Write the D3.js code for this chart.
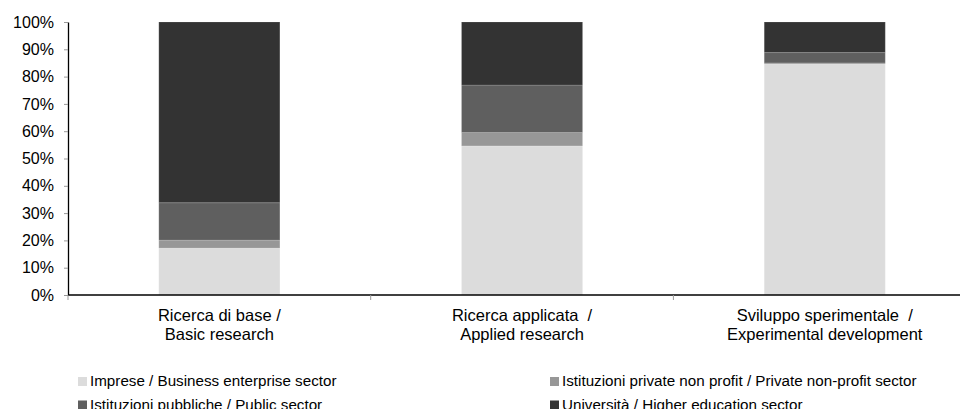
<!DOCTYPE html>
<html>
<head>
<meta charset="utf-8">
<script src="https://cdn.jsdelivr.net/npm/d3@7"></script>
<style>
  body { margin: 0; background: #fff; }
  svg text { font-family: "Liberation Sans", Arial, sans-serif; fill: #000; white-space: pre; }
</style>
</head>
<body>
<div id="main"></div>
<script>
// categorie (due righe per etichetta)
const categories = ['base', 'applicata', 'sviluppo'];
const categoryLabels = [
  ['Ricerca di base /', 'Basic research'],
  ['Ricerca applicata  /', 'Applied research'],
  ['Sviluppo sperimentale  /', 'Experimental development']
];
// quote percentuali per settore
const seriesNames = [
  'Imprese / Business enterprise sector',
  'Istituzioni private non profit / Private non-profit sector',
  'Istituzioni pubbliche / Public sector',
  'Università / Higher education sector'
];
const imprese = [17.2, 54.6, 84.6];
const privateNonProfit = [2.9, 4.9, 0.4];
const pubbliche = [13.7, 17.4, 3.8];
const universita = [66.2, 23.1, 11.2];
const colors = ['#dcdcdc', '#979797', '#5f5f5f', '#333333'];
const yTicks = [0, 10, 20, 30, 40, 50, 60, 70, 80, 90, 100];

const chartWidth = 965, chartHeight = 409;
const marginLeft = 68, plotTop = 22, plotBottom = 295;

const svg = d3.select('#main').append('svg')
  .attr('width', chartWidth)
  .attr('height', chartHeight);

const keys = ['imprese', 'privateNonProfit', 'pubbliche', 'universita'];
const table = categories.map((c, i) => ({
  cat: c,
  imprese: imprese[i],
  privateNonProfit: privateNonProfit[i],
  pubbliche: pubbliche[i],
  universita: universita[i]
}));

const stacked = d3.stack().keys(keys)(table);

const xScale = d3.scaleBand().domain(categories).range([marginLeft, marginLeft + 3 * 302.7]).paddingInner(0.6).paddingOuter(0.3);
const yScale = d3.scaleLinear().domain([0, 100]).range([plotBottom, plotTop]);

// barre
svg.append('g').selectAll('g')
  .data(stacked)
  .enter()
  .append('g')
  .attr('fill', (d, i) => colors[i])
  .selectAll('rect')
  .data(d => d)
  .enter()
  .append('rect')
  .attr('x', d => xScale(d.data.cat))
  .attr('width', xScale.bandwidth())
  .attr('y', d => yScale(d[1]))
  .attr('height', d => yScale(d[0]) - yScale(d[1]))
  .attr('stroke', '#ffffff')
  .attr('stroke-opacity', 0.15)
  .attr('stroke-width', 1);

// asse y
const yAxis = svg.append('g')
  .attr('transform', `translate(${marginLeft},0)`)
  .call(d3.axisLeft(yScale).tickValues(yTicks).tickFormat(d => d + '%').tickSize(4).tickSizeOuter(0));
yAxis.select('.domain').attr('stroke', '#000').attr('stroke-width', 1.3);
yAxis.selectAll('.tick line').attr('stroke', '#999');
yAxis.selectAll('.tick text')
  .attr('x', -14)
  .attr('font-size', '16px')
  .attr('font-family', '"Liberation Sans", Arial, sans-serif')
  .attr('fill', '#000');

// asse x con tacche tra le categorie
const step = xScale.step();
const xAxisG = svg.append('g');
xAxisG.append('line')
  .attr('x1', marginLeft).attr('x2', 960)
  .attr('y1', plotBottom).attr('y2', plotBottom)
  .attr('stroke', '#000').attr('stroke-width', 1.3);
xAxisG.selectAll('line.sep')
  .data(d3.range(0, 3))
  .enter()
  .append('line')
  .attr('class', 'sep')
  .attr('x1', i => marginLeft + i * step)
  .attr('x2', i => marginLeft + i * step)
  .attr('y1', plotBottom)
  .attr('y2', plotBottom + 5)
  .attr('stroke', '#999');

const labels = svg.append('g').selectAll('text')
  .data(categories)
  .enter()
  .append('text')
  .attr('text-anchor', 'middle')
  .attr('font-size', '16.5px')
  .attr('x', d => xScale(d) + xScale.bandwidth() / 2)
  .attr('y', 320.5);
labels.selectAll('tspan')
  .data((d, i) => categoryLabels[i])
  .enter()
  .append('tspan')
  .attr('x', function() { return d3.select(this.parentNode).attr('x'); })
  .attr('dy', (d, j) => j === 0 ? 0 : 19.5)
  .text(d => d);

// legenda
const legendPos = [[78, 386], [550, 386], [78, 409.5], [550, 409.5]];
const legend = svg.append('g').selectAll('g')
  .data(seriesNames)
  .enter()
  .append('g')
  .attr('transform', (d, i) => `translate(${legendPos[i][0]},${legendPos[i][1]})`);
legend.append('rect')
  .attr('x', 0).attr('y', -9)
  .attr('width', 9).attr('height', 9)
  .attr('fill', (d, i) => colors[i]);
legend.append('text')
  .attr('x', 12)
  .attr('y', 0)
  .attr('font-size', '15.2px')
  .text(d => d);
</script>
</body>
</html>
